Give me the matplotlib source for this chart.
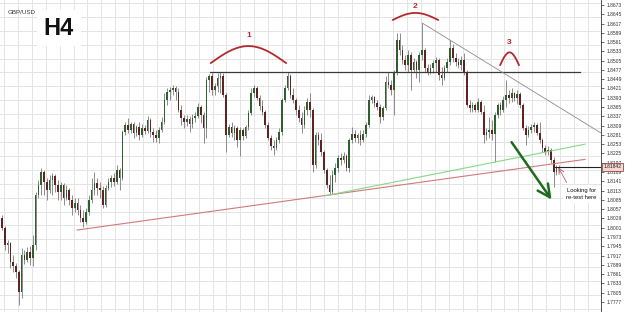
import numpy as np
import matplotlib
matplotlib.use("Agg")
import matplotlib.pyplot as plt

plt.rcParams['font.family'] = ['Liberation Sans', 'DejaVu Sans']

# GBP/USD H4 candles, open = previous close
first_open = 1.8030
closes = [
    1.8000, 1.7949, 1.7955, 1.7898, 1.7885, 1.7867, 1.7807, 1.7919, 1.7904, 1.7928,
    1.7910, 1.7949, 1.8100, 1.8130, 1.8169, 1.8139, 1.8115, 1.8145, 1.8157, 1.8130,
    1.8109, 1.8130, 1.8091, 1.8115, 1.8085, 1.8060, 1.8076, 1.8054, 1.8030, 1.8018,
    1.8048, 1.8085, 1.8115, 1.8136, 1.8121, 1.8115, 1.8070, 1.8121, 1.8139, 1.8151,
    1.8139, 1.8175, 1.8151, 1.8290, 1.8311, 1.8296, 1.8314, 1.8287, 1.8305, 1.8281,
    1.8302, 1.8293, 1.8326, 1.8290, 1.8281, 1.8272, 1.8296, 1.8320, 1.8386, 1.8410,
    1.8416, 1.8423, 1.8410, 1.8356, 1.8332, 1.8320, 1.8329, 1.8314, 1.8332, 1.8338,
    1.8365, 1.8341, 1.8302, 1.8447, 1.8459, 1.8416, 1.8429, 1.8453, 1.8459, 1.8401,
    1.8281, 1.8305, 1.8287, 1.8302, 1.8266, 1.8296, 1.8278, 1.8305, 1.8347, 1.8407,
    1.8423, 1.8392, 1.8368, 1.8350, 1.8311, 1.8272, 1.8248, 1.8241, 1.8266, 1.8290,
    1.8386, 1.8423, 1.8459, 1.8401, 1.8386, 1.8356, 1.8332, 1.8311, 1.8356, 1.8380,
    1.8356, 1.8190, 1.8281, 1.8266, 1.8229, 1.8175, 1.8130, 1.8109, 1.8160, 1.8181,
    1.8211, 1.8205, 1.8217, 1.8181, 1.8266, 1.8284, 1.8272, 1.8281, 1.8266, 1.8284,
    1.8311, 1.8386, 1.8395, 1.8377, 1.8365, 1.8335, 1.8362, 1.8441, 1.8432, 1.8416,
    1.8471, 1.8567, 1.8537, 1.8507, 1.8492, 1.8522, 1.8477, 1.8501, 1.8477, 1.8522,
    1.8537, 1.8483, 1.8471, 1.8483, 1.8498, 1.8507, 1.8462, 1.8453, 1.8483, 1.8501,
    1.8543, 1.8513, 1.8501, 1.8492, 1.8507, 1.8471, 1.8371, 1.8362, 1.8371, 1.8356,
    1.8380, 1.8350, 1.8281, 1.8290, 1.8296, 1.8284, 1.8341, 1.8371, 1.8356, 1.8386,
    1.8401, 1.8392, 1.8407, 1.8392, 1.8404, 1.8371, 1.8302, 1.8281, 1.8296, 1.8305,
    1.8311, 1.8287, 1.8266, 1.8241, 1.8229, 1.8235, 1.8205, 1.8169, 1.8181, 1.81842,
]
highs = [
    1.8039, 1.8006, 1.7964, 1.7958, 1.7919, 1.7895, 1.7873, 1.7940, 1.7934, 1.7943,
    1.7946, 1.7979, 1.8109, 1.8145, 1.8181, 1.8175, 1.8151, 1.8160, 1.8166, 1.8163,
    1.8145, 1.8139, 1.8136, 1.8130, 1.8121, 1.8100, 1.8091, 1.8091, 1.8070, 1.8054,
    1.8060, 1.8100, 1.8151, 1.8169, 1.8151, 1.8139, 1.8127, 1.8130, 1.8151, 1.8160,
    1.8166, 1.8190, 1.8181, 1.8296, 1.8320, 1.8332, 1.8320, 1.8320, 1.8311, 1.8320,
    1.8314, 1.8311, 1.8338, 1.8332, 1.8302, 1.8296, 1.8305, 1.8335, 1.8407, 1.8423,
    1.8426, 1.8432, 1.8429, 1.8423, 1.8371, 1.8341, 1.8341, 1.8338, 1.8344, 1.8350,
    1.8377, 1.8371, 1.8350, 1.8456, 1.8465, 1.8468, 1.8438, 1.8468, 1.8471, 1.8468,
    1.8407, 1.8314, 1.8320, 1.8311, 1.8308, 1.8305, 1.8302, 1.8311, 1.8356, 1.8423,
    1.8432, 1.8429, 1.8401, 1.8386, 1.8356, 1.8320, 1.8281, 1.8266, 1.8275, 1.8302,
    1.8392, 1.8432, 1.8471, 1.8465, 1.8423, 1.8392, 1.8371, 1.8350, 1.8368, 1.8392,
    1.8407, 1.8362, 1.8290, 1.8290, 1.8287, 1.8235, 1.8181, 1.8160, 1.8175, 1.8196,
    1.8220, 1.8226, 1.8229, 1.8223, 1.8272, 1.8305, 1.8296, 1.8287, 1.8296, 1.8296,
    1.8320, 1.8401, 1.8401, 1.8398, 1.8386, 1.8374, 1.8368, 1.8459, 1.8471, 1.8447,
    1.8477, 1.8588, 1.8588, 1.8552, 1.8522, 1.8537, 1.8531, 1.8513, 1.8507, 1.8531,
    1.8619, 1.8543, 1.8495, 1.8495, 1.8507, 1.8516, 1.8513, 1.8486, 1.8492, 1.8513,
    1.8567, 1.8555, 1.8528, 1.8513, 1.8519, 1.8528, 1.8477, 1.8386, 1.8380, 1.8377,
    1.8392, 1.8386, 1.8371, 1.8302, 1.8335, 1.8326, 1.8350, 1.8377, 1.8380, 1.8398,
    1.8447, 1.8416, 1.8423, 1.8410, 1.8416, 1.8410, 1.8377, 1.8311, 1.8308, 1.8314,
    1.8320, 1.8317, 1.8320, 1.8272, 1.8251, 1.8248, 1.8241, 1.8214, 1.8190, 1.8190,
]
lows = [
    1.7994, 1.7934, 1.7925, 1.7879, 1.7867, 1.7849, 1.7768, 1.7789, 1.7892, 1.7898,
    1.7888, 1.7885, 1.7934, 1.8091, 1.8100, 1.8100, 1.8085, 1.8106, 1.8100, 1.8109,
    1.8085, 1.8085, 1.8070, 1.8085, 1.8070, 1.8039, 1.8048, 1.8039, 1.8018, 1.8003,
    1.8012, 1.8039, 1.8076, 1.8100, 1.8100, 1.8091, 1.8060, 1.8064, 1.8115, 1.8124,
    1.8127, 1.8133, 1.8115, 1.8145, 1.8281, 1.8287, 1.8287, 1.8272, 1.8278, 1.8266,
    1.8275, 1.8284, 1.8287, 1.8275, 1.8260, 1.8260, 1.8257, 1.8290, 1.8314, 1.8371,
    1.8386, 1.8401, 1.8386, 1.8350, 1.8311, 1.8302, 1.8308, 1.8290, 1.8302, 1.8320,
    1.8332, 1.8317, 1.8257, 1.8272, 1.8410, 1.8401, 1.8401, 1.8410, 1.8407, 1.8395,
    1.8229, 1.8275, 1.8275, 1.8266, 1.8245, 1.8217, 1.8266, 1.8272, 1.8296, 1.8341,
    1.8395, 1.8386, 1.8356, 1.8341, 1.8302, 1.8266, 1.8235, 1.8220, 1.8235, 1.8257,
    1.8281, 1.8380, 1.8416, 1.8392, 1.8377, 1.8341, 1.8320, 1.8287, 1.8302, 1.8341,
    1.8335, 1.8169, 1.8181, 1.8251, 1.8217, 1.8166, 1.8121, 1.8100, 1.8103, 1.8139,
    1.8169, 1.8190, 1.8196, 1.8172, 1.8169, 1.8257, 1.8260, 1.8257, 1.8251, 1.8260,
    1.8275, 1.8305, 1.8377, 1.8365, 1.8356, 1.8317, 1.8326, 1.8356, 1.8423, 1.8401,
    1.8341, 1.8462, 1.8522, 1.8495, 1.8477, 1.8471, 1.8416, 1.8471, 1.8453, 1.8441,
    1.8507, 1.8471, 1.8462, 1.8465, 1.8468, 1.8471, 1.8447, 1.8432, 1.8447, 1.8471,
    1.8492, 1.8501, 1.8489, 1.8483, 1.8477, 1.8462, 1.8365, 1.8350, 1.8350, 1.8350,
    1.8350, 1.8344, 1.8257, 1.8266, 1.8272, 1.8266, 1.8199, 1.8332, 1.8341, 1.8350,
    1.8365, 1.8377, 1.8380, 1.8383, 1.8374, 1.8362, 1.8296, 1.8251, 1.8275, 1.8287,
    1.8290, 1.8281, 1.8257, 1.8229, 1.8220, 1.8220, 1.8196, 1.8124, 1.8160, 1.8169,
]
opens = [first_open] + closes[:-1]

price_labels = [
    "1.7777", "1.7805", "1.7833", "1.7861", "1.7889", "1.7917", "1.7945", "1.7973",
    "1.8001", "1.8029", "1.8057", "1.8085", "1.8113", "1.8141", "1.8169", "1.8197",
    "1.8225", "1.8253", "1.8281", "1.8309", "1.8337", "1.8365", "1.8393", "1.8421",
    "1.8449", "1.8477", "1.8505", "1.8533", "1.8561", "1.8589", "1.8617", "1.8645",
    "1.8673",
]
price_ticks = [float(s) for s in price_labels]

# hand drawn annotation anchors (candle index, price)
support_start = (26.8, 1.7994)

fig = plt.figure(figsize=(6.25, 3.12), dpi=100)
ax = fig.add_axes([0, 0, 601 / 625, 1])
y_top, y_bot = 1.8688, 1.77467
ax.set_xlim(-0.714, 213.9)
ax.set_ylim(y_bot, y_top)

x = np.arange(len(closes))
o = np.array(opens)
c = np.array(closes)
up = c >= o
body = np.maximum(np.abs(c - o), 0.00012)

# square background grid (independent of the price ticks)
for gx in np.arange(0.714, 214, 4.964):
    ax.axvline(gx, color='#e4e4e4', lw=0.7, zorder=0)
for gy in np.arange(y_top - 0.0009, y_bot, -0.004194):
    ax.axhline(gy, color='#e4e4e4', lw=0.7, zorder=0)

ax.set_yticks(price_ticks)
ax.set_yticklabels(price_labels)
ax.set_xticks([])
ax.yaxis.tick_right()
ax.tick_params(axis='y', length=2.5, width=0.5, labelsize=3.6, pad=1.5, colors='#333333')
for s in ['top', 'left', 'bottom']:
    ax.spines[s].set_visible(False)
ax.spines['right'].set_linewidth(0.6)
ax.spines['right'].set_color('#333333')

# candles
ax.vlines(x, lows, highs, color='#7a7a7a', lw=0.6, zorder=3)
ax.bar(x[up], body[up], bottom=o[up], width=0.6, color='#2f5f2f', zorder=4)
ax.bar(x[~up], body[~up], bottom=c[~up], width=0.6, color='#5e2323', zorder=4)


def trend(p0, p1, x0, x1, **kw):
    k = (p1[1] - p0[1]) / (p1[0] - p0[0])
    ax.plot([x0, x1], [p0[1] + k * (x0 - p0[0]), p0[1] + k * (x1 - p0[0])], **kw)


# neckline
neck = highs[78]
ax.plot([74.3, 206.4], [neck, neck], color='#3a3a3a', lw=0.9, zorder=5)
# support lines
trend(support_start, (117, lows[117]), 26.8, 208.2, color='#d07a7a', lw=0.8, zorder=5)
trend((117, lows[117]), (176, lows[176]), 115.4, 208.2, color='#86d886', lw=0.8, zorder=5)
# falling highs
trend((150, highs[150]), (160, highs[160]), 150, 213.9, color='#8c8c8c', lw=0.6, zorder=5)


def hump(x0, x1, base, top, label, label_y):
    t = np.linspace(0, 1, 40)
    ax.plot(x0 + (x1 - x0) * t, base + (top - base) * np.sin(np.pi * t),
            color='#b5282d', lw=1.3, zorder=6)
    ax.text((x0 + x1) / 2, label_y, label, color='#b5282d', fontsize=6,
            fontweight='bold', ha='center', va='center', zorder=6)


hump(74.6, 101.4, 1.8498, 1.8549, "1", 1.8582)
hump(139.6, 155.7, 1.8628, 1.8649, "2", 1.8667)
hump(177.9, 184.6, 1.8492, 1.8530, "3", 1.8561)

# arrows
ax.annotate('', xy=(196.8, 1.8079), xytext=(181.4, 1.8266),
            arrowprops=dict(arrowstyle='->,head_length=0.9,head_width=0.45',
                            color='#1e6b1e', lw=1.8), zorder=7)
ax.annotate('', xy=(198.2, 1.8190), xytext=(202.1, 1.8130),
            arrowprops=dict(arrowstyle='->,head_length=0.4,head_width=0.2',
                            color='#b86060', lw=0.6), zorder=7)
ax.text(206.8, 1.8120, "Looking for\nre-test here", fontsize=4.2, ha='center',
        va='top', linespacing=1.5, color='#111111', zorder=7,
        bbox=dict(facecolor='white', edgecolor='none', pad=2))

# last price
last = closes[-1]
ax.plot([197.5, 213.9], [last, last], color='#222222', lw=0.8, zorder=6)
ax.annotate("1.81842", xy=(1.004, last), xycoords=('axes fraction', 'data'),
            fontsize=3.6, va='center', ha='left', color='#222222', annotation_clip=False,
            bbox=dict(facecolor='#f6d6d0', edgecolor='#7a3030', lw=0.5, pad=0.8), zorder=8)

ax.text(0.013, 0.955, "GBP/USD", transform=ax.transAxes, fontsize=4.5, color='#333333')
ax.text(0.098, 0.91, "H4", transform=ax.transAxes, fontsize=17, fontweight='bold',
        ha='center', va='center', color='#111111',
        bbox=dict(facecolor='white', edgecolor='none', pad=5))

fig.savefig("out.png", dpi=100)
